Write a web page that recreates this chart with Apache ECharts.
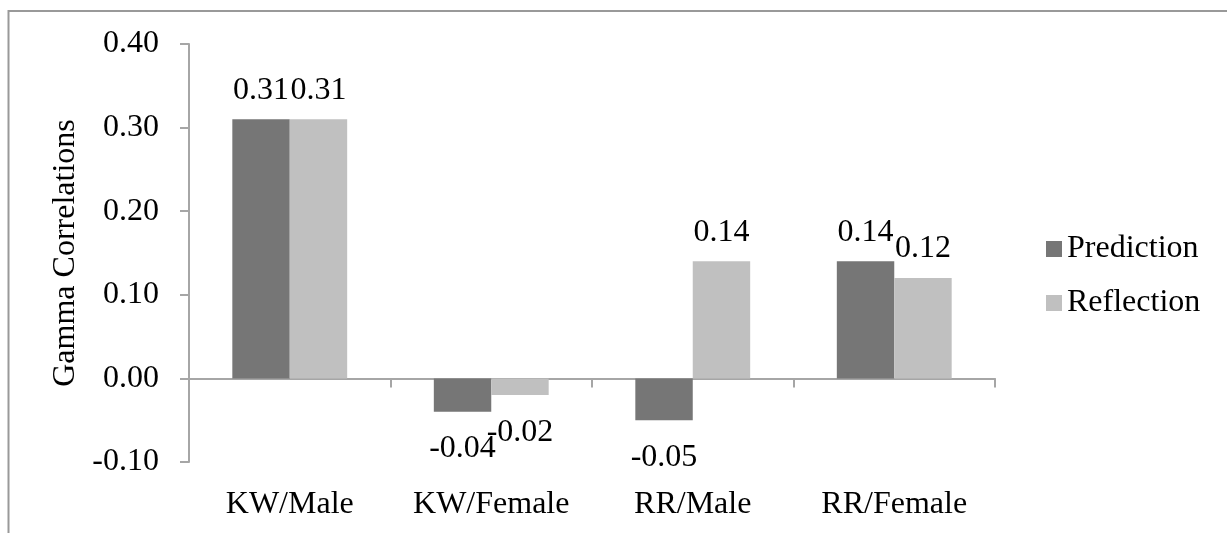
<!DOCTYPE html>
<html>
<head>
<meta charset="utf-8">
<script src="https://cdn.jsdelivr.net/npm/echarts@6/dist/echarts.min.js"></script>
<style>
  html, body { margin: 0; padding: 0; background: #ffffff; }
  #chart { width: 1227px; height: 533px; }
</style>
</head>
<body>
<div id="chart"></div>
<script>
// Gamma correlations by group and judgement type
const categories = ['KW/Male', 'KW/Female', 'RR/Male', 'RR/Female'];
const predictionValues = [0.31, -0.04, -0.05, 0.14];
const reflectionValues = [0.31, -0.02, 0.14, 0.12];
const yTicks = { min: -0.1, max: 0.4, step: 0.1 };

const FONT = '"Liberation Serif", "Times New Roman", serif';
const FONT_SIZE = 32;
const AXIS_COLOR = '#a6a6a6';

// Positive values get their label above the bar, negative ones below it
function withLabels(values) {
  return values.map(v => ({
    value: v,
    label: v >= 0
      ? { position: 'top', distance: 13 }
      : { position: 'bottom', distance: 21 }
  }));
}

const labelStyle = {
  show: true,
  fontFamily: FONT,
  fontSize: FONT_SIZE,
  color: '#000',
  formatter: p => p.value.toFixed(2)
};

const chart = echarts.init(document.getElementById('chart'), null, { renderer: 'canvas' });

chart.setOption({
  animation: false,
  backgroundColor: '#ffffff',
  textStyle: { fontFamily: FONT },
  graphic: [{
    type: 'polyline',
    shape: { points: [[8.5, 533], [8.5, 11], [1227, 11]] },
    style: { stroke: '#999999', lineWidth: 2, fill: null },
    silent: true
  }],
  grid: { left: 189, right: 232, top: 44, bottom: 71, containLabel: false },
  legend: {
    orient: 'vertical',
    left: 1046,
    top: 233,
    padding: 0,
    itemWidth: 16,
    itemHeight: 16,
    itemGap: 22,
    icon: 'rect',
    textStyle: { fontFamily: FONT, fontSize: FONT_SIZE, color: '#000' },
    data: ['Prediction', 'Reflection']
  },
  xAxis: [
    {
      // category names along the bottom of the plot
      type: 'category',
      data: categories,
      position: 'bottom',
      axisLine: { show: false, onZero: false },
      axisTick: { show: false },
      axisLabel: { interval: 0, fontFamily: FONT, fontSize: FONT_SIZE, color: '#000', margin: 27 }
    },
    {
      // zero baseline with downward ticks between categories
      type: 'category',
      data: categories,
      position: 'top',
      axisLine: { show: true, onZero: true, lineStyle: { color: AXIS_COLOR, width: 2 } },
      axisTick: { show: true, inside: true, interval: 0, length: 9, lineStyle: { color: AXIS_COLOR, width: 2 } },
      axisLabel: { show: false, interval: 0 }
    }
  ],
  yAxis: {
    type: 'value',
    min: yTicks.min,
    max: yTicks.max,
    interval: yTicks.step,
    name: 'Gamma Correlations',
    nameLocation: 'middle',
    nameGap: 100,
    nameTextStyle: { fontFamily: FONT, fontSize: FONT_SIZE, color: '#000' },
    axisLine: { show: true, lineStyle: { color: AXIS_COLOR, width: 2 } },
    axisTick: { show: true, length: 9, lineStyle: { color: AXIS_COLOR, width: 2 } },
    splitLine: { show: false },
    axisLabel: {
      fontFamily: FONT, fontSize: FONT_SIZE, color: '#000', margin: 30,
      formatter: v => v.toFixed(2)
    }
  },
  series: [
    {
      name: 'Prediction',
      type: 'bar',
      xAxisIndex: 0,
      data: withLabels(predictionValues),
      itemStyle: { color: '#767676' },
      barGap: '0%',
      barCategoryGap: '43%',
      label: labelStyle
    },
    {
      name: 'Reflection',
      type: 'bar',
      xAxisIndex: 0,
      data: withLabels(reflectionValues),
      itemStyle: { color: '#c0c0c0' },
      barGap: '0%',
      barCategoryGap: '43%',
      label: labelStyle
    }
  ]
});
</script>
</body>
</html>
